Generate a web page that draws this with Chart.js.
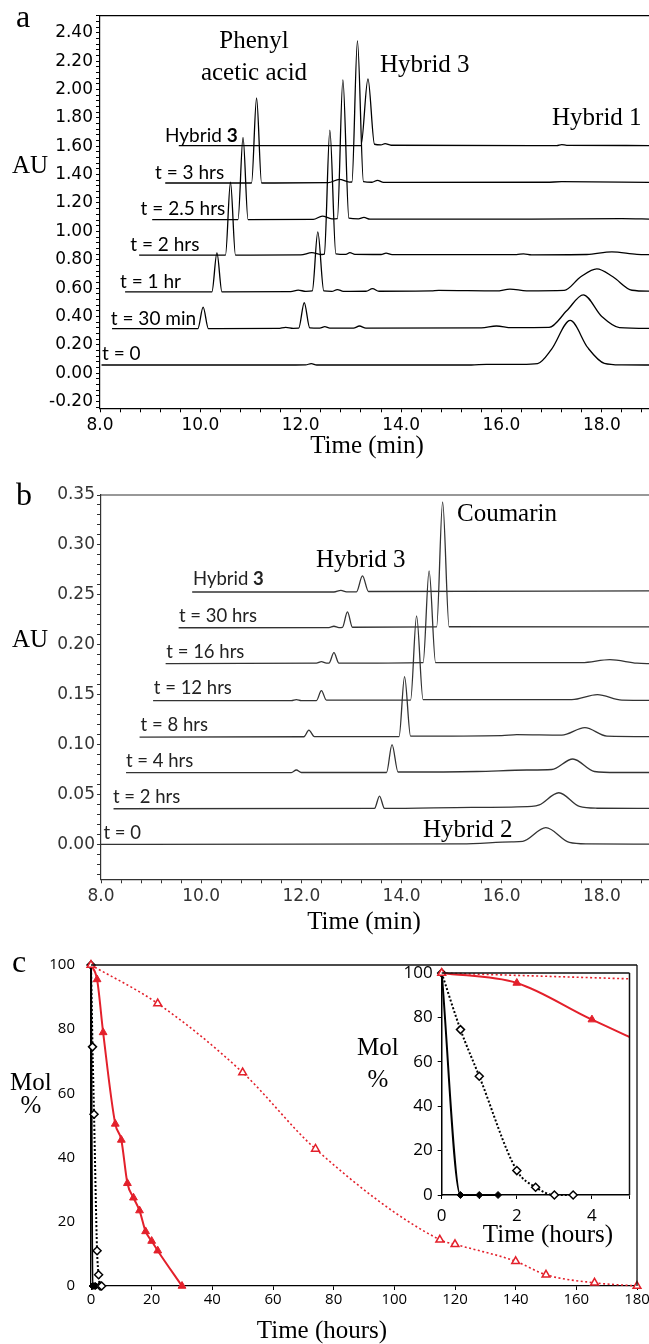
<!DOCTYPE html>
<html>
<head>
<meta charset="utf-8">
<script src="https://cdn.jsdelivr.net/npm/chart.js@4.4.1/dist/chart.umd.min.js"></script>
<style>
  html, body { margin: 0; padding: 0; background: #fff; }
  body { width: 649px; height: 1344px; position: relative; overflow: hidden; }
  canvas { position: absolute; }
  .lbl { position: absolute; white-space: nowrap; line-height: 1; }
</style>
</head>
<body>
<canvas id="chartA" width="649" height="440" style="left:0;top:0"></canvas>
<canvas id="chartB" width="649" height="440" style="left:0;top:470px"></canvas>
<canvas id="chartC" width="670" height="404" style="left:0;top:940px"></canvas>
<canvas id="chartInset" width="250" height="280" style="left:390px;top:955px"></canvas>
<script>
// ---- panel a: chromatograms, [time (min), AU] ----
const minTickLabels = ['8.0', '10.0', '12.0', '14.0', '16.0', '18.0'];
const auTickLabelsA = ['-0.20', '0.00', '0.20', '0.40', '0.60', '0.80', '1.00', '1.20', '1.40', '1.60', '1.80', '2.00', '2.20', '2.40'];

const auT0 = [[8.03,0.058],[11.9,0.058],[12.1,0.059],[12.21,0.068],[12.32,0.058],[15.4,0.058],[15.7,0.063],[16.4,0.063],[16.72,0.068],[17.0,0.17],[17.37,0.372],[17.72,0.18],[18.05,0.07],[18.4,0.059],[19,0.058]];
const auT30min = [[8.24,0.315],[9.95,0.315],[10.055,0.466],[10.16,0.315],[11.55,0.316],[11.7,0.324],[11.85,0.317],[11.96,0.318],[12.07,0.497],[12.18,0.32],[12.38,0.318],[12.48,0.328],[12.58,0.318],[13.05,0.318],[13.17,0.333],[13.3,0.318],[15.6,0.32],[15.9,0.333],[16.2,0.321],[16.95,0.323],[17.3,0.44],[17.63,0.553],[18.0,0.40],[18.35,0.322],[19,0.316]];
const auT1hr = [[8.5,0.574],[10.23,0.574],[10.33,0.848],[10.43,0.574],[11.8,0.575],[11.95,0.586],[12.1,0.577],[12.23,0.58],[12.34,0.996],[12.46,0.58],[12.62,0.577],[12.73,0.59],[12.85,0.577],[13.3,0.578],[13.43,0.596],[13.56,0.578],[14.6,0.58],[14.75,0.584],[15.9,0.58],[16.17,0.593],[16.5,0.581],[17.25,0.584],[17.58,0.68],[17.9,0.736],[18.22,0.68],[18.6,0.585],[19,0.578]];
const auT2hrs = [[8.78,0.833],[10.5,0.833],[10.6,1.346],[10.7,0.833],[12.0,0.834],[12.22,0.85],[12.42,0.837],[12.47,0.84],[12.58,1.713],[12.7,0.842],[12.9,0.838],[12.98,0.85],[13.08,0.838],[13.6,0.837],[13.7,0.847],[13.82,0.836],[16.3,0.836],[16.44,0.842],[16.6,0.835],[17.7,0.837],[18.2,0.856],[18.7,0.838],[19,0.836]];
const auT25hrs = [[9.04,1.083],[10.75,1.083],[10.85,1.663],[10.95,1.083],[12.25,1.084],[12.43,1.108],[12.62,1.088],[12.73,1.09],[12.84,2.067],[12.96,1.093],[13.15,1.088],[13.26,1.098],[13.38,1.086],[16.6,1.086],[18.4,1.09],[19,1.086]];
const auT3hrs = [[9.3,1.341],[11.02,1.341],[11.12,1.94],[11.22,1.341],[12.55,1.343],[12.77,1.367],[12.97,1.347],[13.02,1.348],[13.13,2.342],[13.25,1.35],[13.42,1.346],[13.53,1.36],[13.65,1.345],[16.9,1.346],[17.2,1.35],[19,1.345]];
const auHybrid3A = [[9.57,1.605],[13.2,1.605],[13.34,2.075],[13.47,1.614],[13.6,1.61],[13.68,1.618],[13.8,1.607],[17.1,1.605],[17.2,1.612],[17.3,1.606],[19,1.605]];

const tracesA = [auT0, auT30min, auT1hr, auT2hrs, auT25hrs, auT3hrs, auHybrid3A];
const traceNamesA = ['t = 0', 't = 30 min', 't = 1 hr', 't = 2 hrs', 't = 2.5 hrs', 't = 3 hrs', 'Hybrid <b>3</b>'];

// ---- panel b ----
const auTickLabelsB = ['0.00', '0.05', '0.10', '0.15', '0.20', '0.25', '0.30', '0.35'];

const auB0 = [[8,0],[15.2,0.0005],[16.2,0.0025],[16.42,0.003],[16.88,0.0167],[17.35,0.002],[17.7,0.0005],[19,0.0003]];
const auB2hrs = [[8.25,0.0357],[13.46,0.036],[13.56,0.0484],[13.66,0.036],[15.4,0.037],[16.6,0.038],[16.75,0.0395],[17.14,0.0517],[17.55,0.038],[17.9,0.0362],[19,0.036]];
const auB4hrs = [[8.5,0.0718],[11.8,0.0718],[11.9,0.0745],[12.0,0.072],[13.7,0.072],[13.81,0.1],[13.93,0.0725],[15.5,0.073],[16.5,0.0745],[17.0,0.075],[17.42,0.0855],[17.85,0.073],[18.3,0.072],[19,0.072]];
const auB8hrs = [[8.77,0.1075],[12.05,0.1078],[12.15,0.1145],[12.26,0.108],[13.95,0.108],[14.06,0.168],[14.18,0.1085],[16.0,0.109],[16.3,0.11],[17.2,0.1095],[17.66,0.117],[18.1,0.1085],[19,0.108]];
const auB12hrs = [[9.04,0.144],[11.8,0.144],[11.9,0.145],[12.0,0.144],[12.3,0.144],[12.4,0.154],[12.5,0.1445],[14.18,0.1445],[14.3,0.229],[14.43,0.145],[17.4,0.145],[17.91,0.15],[18.4,0.1445],[19,0.1443]];
const auB16hrs = [[9.29,0.181],[12.3,0.1815],[12.4,0.183],[12.5,0.1815],[12.55,0.1815],[12.65,0.192],[12.75,0.1815],[14.43,0.182],[14.55,0.274],[14.68,0.182],[17.6,0.182],[18.16,0.185],[18.7,0.1815],[19,0.181]];
const auB30hrs = [[9.55,0.217],[12.55,0.2172],[12.65,0.2185],[12.75,0.2172],[12.82,0.2175],[12.92,0.233],[13.02,0.2175],[14.7,0.2178],[14.82,0.343],[14.95,0.218],[19,0.2178]];
const auBHybrid3 = [[9.82,0.2528],[12.65,0.2528],[12.79,0.2545],[12.9,0.253],[13.1,0.253],[13.22,0.269],[13.34,0.2533],[19,0.254]];

const tracesB = [auB0, auB2hrs, auB4hrs, auB8hrs, auB12hrs, auB16hrs, auB30hrs, auBHybrid3];
const traceNamesB = ['t = 0', 't = 2 hrs', 't = 4 hrs', 't = 8 hrs', 't = 12 hrs', 't = 16 hrs', 't = 30 hrs', 'Hybrid <b>3</b>'];

// ---- panel c: mol % vs time (hours) ----
const hourTickLabels = ['0', '20', '40', '60', '80', '100', '120', '140', '160', '180'];
const insetHourTickLabels = ['0', '2', '4'];
const molTickLabels = ['0', '20', '40', '60', '80', '100'];

const hoursRedSolid = [0, 2, 4, 8, 10, 12, 14, 16, 18, 20, 22, 30];
const molRedSolid = [100, 95.5, 79, 50.5, 45.5, 32, 27.5, 23.5, 17, 14, 11, 0];
const hoursRedDotted = [0, 22, 50, 74, 115, 120, 140, 150, 166, 180];
const molRedDotted = [100, 88, 66.5, 42.7, 14.4, 13, 7.7, 3.5, 1, 0];
const hoursBlackDotted = [0, 0.5, 1, 2, 2.5, 3, 3.5];
const molBlackDotted = [100, 74.5, 53.5, 11, 3.5, 0, 0];
const hoursBlackSolid = [0, 0.5, 1, 1.5];
const molBlackSolid = [100, 0, 0, 0];

// ---- layout of the text (pixels on the page) ----
const traceLabelPosA = [[102,360],[110.8,324.5],[120,288],[130.3,251],[140.6,215],[155,179],[165,141.5]];
const traceLabelPosB = [[103.4,839.5],[113,803],[126,767.5],[140.6,731],[153.8,694.5],[166.3,658.5],[179,622],[193,585.5]];

const RED = '#e3202b';
const SERIF = '"Liberation Serif", "Times New Roman", serif';
const SANS = 'Lato, "Open Sans", sans-serif';
const BASE = { serif: 0.8375, sans: 0.887 };

const addLabel = (html, x, baseline, { size = 25, font = 'serif', center = false, color = '#000' } = {}) => {
    const el = document.createElement('div');
    el.className = 'lbl';
    el.innerHTML = html;
    el.style.fontFamily = font === 'serif' ? SERIF : SANS;
    el.style.fontSize = size + 'px';
    el.style.color = color;
    el.style.left = x + 'px';
    el.style.top = (baseline - size * BASE[font]) + 'px';
    if (center) el.style.transform = 'translateX(-50%)';
    document.body.appendChild(el);
};

const stepTicks = (min, max, step) => {
    const ticks = [];
    for (let k = Math.ceil(min / step - 1e-6); k * step <= max + 1e-6; k++) {
        ticks.push({ value: Math.round(k * step * 1e6) / 1e6 });
    }
    return ticks;
};
const labelFor = (labels) => (value) => {
    const hit = labels.find(l => Math.abs(parseFloat(l) - value) < 1e-6);
    return hit === undefined ? '' : hit;
};
const toPoints = (xs, ys) => xs.map((x, i) => ({ x, y: ys[i] }));

// draws the plot frame on the sides the axes do not cover
const framePlugin = {
    id: 'frame',
    beforeDraw(chart, args, opts) {
        if (!opts.fill) return;
        const { ctx, chartArea: a } = chart;
        ctx.save();
        ctx.fillStyle = opts.fill;
        ctx.fillRect(a.left, a.top, a.right - a.left, a.bottom - a.top);
        ctx.restore();
    },
    afterDraw(chart, args, opts) {
        const { ctx, chartArea: a } = chart;
        ctx.save();
        ctx.strokeStyle = opts.color || '#000';
        ctx.lineWidth = opts.width || 1;
        ctx.beginPath();
        if (opts.top) { ctx.moveTo(a.left, a.top); ctx.lineTo(a.right, a.top); }
        if (opts.right) { ctx.moveTo(a.right, a.top); ctx.lineTo(a.right, a.bottom); }
        ctx.stroke();
        ctx.restore();
    }
};

const axis = ({ min, max, step, labels, fit, horizontal, tickLength = 4, padding = 3, font, color = '#000', borderWidth = 1.2 }) => ({
    type: 'linear',
    min, max,
    afterBuildTicks: (s) => { s.ticks = stepTicks(min, max, step); },
    afterFit: (s) => { if (horizontal) s.height = fit; else s.width = fit; },
    grid: { display: true, drawOnChartArea: false, drawTicks: tickLength > 0, tickLength, color, tickWidth: 1 },
    border: { display: true, color, width: borderWidth },
    ticks: { autoSkip: false, maxRotation: 0, padding, color, font, callback: labelFor(labels) }
});

const chromatogram = (id, traces, cfg) => new Chart(document.getElementById(id), {
    type: 'line',
    data: {
        datasets: traces.map(t => ({
            data: t.map(([x, y]) => ({ x, y })),
            borderColor: cfg.color,
            borderWidth: 1.3,
            pointRadius: 0,
            fill: false,
            cubicInterpolationMode: 'monotone'
        }))
    },
    options: {
        responsive: false,
        animation: false,
        devicePixelRatio: 1,
        parsing: false,
        layout: { padding: { top: cfg.padTop, left: 0, right: 0, bottom: 0 } },
        plugins: { legend: { display: false }, tooltip: { enabled: false }, frame: { top: true, color: cfg.color, width: 1.2 } },
        scales: {
            x: axis({ min: 8, max: 18.94, step: 0.4, labels: minTickLabels, fit: cfg.xFit, horizontal: true, padding: 3, color: cfg.color,
                      font: { family: '"DejaVu Sans"', size: 17 } }),
            y: axis({ min: cfg.yMin, max: cfg.yMax, step: cfg.yStep, labels: cfg.yLabels, fit: cfg.yFit, padding: cfg.yPad, color: cfg.color,
                      font: { family: '"DejaVu Sans"', size: 17 } })
        }
    },
    plugins: [framePlugin]
});

chromatogram('chartA', tracesA, { color: '#000', padTop: 15.7, xFit: 31.7, yFit: 100, yPad: 3, yMin: -0.247, yMax: 2.52, yStep: 0.04, yLabels: auTickLabelsA });
chromatogram('chartB', tracesB, { color: '#333', padTop: 25, xFit: 30.7, yFit: 101, yPad: 2, yMin: -0.035, yMax: 0.35, yStep: 0.01, yLabels: auTickLabelsB });

const molDatasets = (clip) => [
    { data: toPoints(hoursRedDotted, molRedDotted), borderColor: RED, borderWidth: 1.6, borderDash: [2, 2.5],
      pointStyle: 'triangle', pointRadius: 4.5, pointBackgroundColor: '#fff', pointBorderColor: RED, pointBorderWidth: 1.5, order: 0 },
    { data: toPoints(hoursRedSolid, molRedSolid), borderColor: RED, borderWidth: 2,
      pointStyle: 'triangle', pointRadius: 4.5, pointBackgroundColor: RED, pointBorderColor: RED, pointBorderWidth: 1, order: 1 },
    { data: toPoints(hoursBlackDotted, molBlackDotted), borderColor: '#000', borderWidth: 2, borderDash: [2, 2],
      pointStyle: 'rectRot', pointRadius: 4, pointBackgroundColor: '#fff', pointBorderColor: '#000', pointBorderWidth: 1.5, order: 2 },
    { data: toPoints(hoursBlackSolid, molBlackSolid), borderColor: '#000', borderWidth: 2,
      pointStyle: 'rectRot', pointRadius: 3.5, pointBackgroundColor: '#000', pointBorderColor: '#000', pointBorderWidth: 1, order: 3 }
].map(d => ({ ...d, fill: false, cubicInterpolationMode: 'monotone', clip }));

const molChart = (id, cfg) => new Chart(document.getElementById(id), {
    type: 'line',
    data: { datasets: molDatasets(cfg.clip) },
    options: {
        responsive: false,
        animation: false,
        devicePixelRatio: 1,
        parsing: false,
        layout: { padding: cfg.padding },
        plugins: { legend: { display: false }, tooltip: { enabled: false },
                   frame: { top: true, right: true, color: '#111', width: cfg.border, fill: cfg.fill } },
        scales: {
            x: axis({ min: 0, max: cfg.xMax, step: cfg.xStep, labels: cfg.xLabels, fit: cfg.xFit, horizontal: true, padding: cfg.xPad,
                      borderWidth: cfg.border, font: { family: '"Open Sans"', size: cfg.fontSize } }),
            y: axis({ min: 0, max: 100, step: 20, labels: molTickLabels, fit: cfg.yFit, tickLength: cfg.yTick, padding: cfg.yPad,
                      borderWidth: cfg.border, font: { family: '"Open Sans"', size: cfg.fontSize } })
        }
    },
    plugins: [framePlugin]
});

molChart('chartC', { padding: { top: 22, left: 0, right: 33, bottom: 0 }, xMax: 180, xStep: 20, xLabels: hourTickLabels,
                     xFit: 58, xPad: 1, yFit: 91, yTick: 0, yPad: 16, fontSize: 15, border: 1.3, clip: 8 });
molChart('chartInset', { padding: { top: 18, left: 0, right: 10.5, bottom: 0 }, xMax: 5, xStep: 1, xLabels: insetHourTickLabels,
                         xFit: 40, xPad: 7, yFit: 51.7, yTick: 4, yPad: 5, fontSize: 17, border: 1.5, fill: '#fff',
                         clip: { left: 8, top: 8, right: 0, bottom: 8 } });

// ---- text ----
traceNamesA.forEach((name, i) => addLabel(name, traceLabelPosA[i][0], traceLabelPosA[i][1], { size: 19, font: 'sans' }));
traceNamesB.forEach((name, i) => addLabel(name, traceLabelPosB[i][0], traceLabelPosB[i][1], { size: 18.5, font: 'sans', color: '#222' }));

addLabel('a', 16, 27, { size: 32 });
addLabel('Phenyl', 254, 48, { center: true });
addLabel('acetic acid', 254, 80, { center: true });
addLabel('Hybrid 3', 380, 72);
addLabel('Hybrid 1', 552, 125);
addLabel('AU', 12, 173);
addLabel('Time (min)', 367, 453, { center: true });

addLabel('b', 16, 505, { size: 32 });
addLabel('Hybrid 3', 316, 567);
addLabel('Coumarin', 457, 521);
addLabel('Hybrid 2', 423, 837);
addLabel('AU', 12, 647);
addLabel('Time (min)', 364, 929, { center: true });

addLabel('c', 12, 972, { size: 32 });
addLabel('Mol', 10, 1090);
addLabel('%', 31, 1113, { center: true });
addLabel('Mol', 357, 1055);
addLabel('%', 378, 1087, { center: true });
addLabel('Time (hours)', 322, 1338, { center: true });
addLabel('Time (hours)', 548, 1242, { center: true });
</script>
</body>
</html>
